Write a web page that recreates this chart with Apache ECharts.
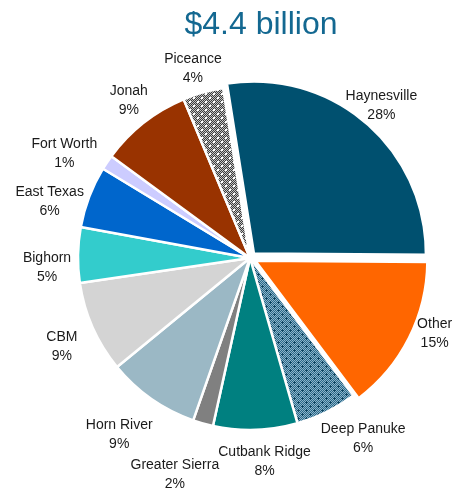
<!DOCTYPE html>
<html>
<head>
<meta charset="utf-8">
<script src="https://cdn.jsdelivr.net/npm/echarts@6/dist/echarts.min.js"></script>
<style>html,body{margin:0;padding:0;background:#fff;}#c{width:455px;height:489px;}</style>
</head>
<body>
<div id="c"></div>
<script>
const title = '$4.4 billion';
const categories = ['Haynesville','Other','Deep Panuke','Cutbank Ridge','Greater Sierra','Horn River','CBM','Bighorn','East Texas','Fort Worth','Jonah','Piceance'];
// estimated shares (%); labels show them rounded
const shares = [27.6,14.6,5.8,7.9,1.9,8.7,8.6,5.2,5.8,1.4,8.6,3.8];
const exploded = ['Haynesville','Other'];

// label nudges (style only), in px
const labelNudge = {
  'Haynesville':[-5,6], 'Other':[-2,-18], 'Deep Panuke':[20,-6], 'Cutbank Ridge':[8,-5],
  'Greater Sierra':[-18,16], 'Horn River':[-11,5], 'CBM':[3,4], 'Bighorn':[6,13],
  'East Texas':[-5,18], 'Fort Worth':[-12,12], 'Jonah':[8,7], 'Piceance':[0,12]
};

function pattern(base, fine, markColor, cross) {
  const c = document.createElement('canvas');
  c.width = 8; c.height = 8;
  const g = c.getContext('2d');
  g.fillStyle = base; g.fillRect(0,0,8,8);
  g.fillStyle = fine;
  for (let y=0;y<8;y++) for (let x=0;x<8;x++) if ((x+y)%2===0) g.fillRect(x,y,1,1);
  g.fillStyle = markColor;
  [[1,1],[5,5]].forEach(([x,y])=>{
    if (cross) { g.fillRect(x+1,y,1,3); g.fillRect(x,y+1,3,1); }
    else { g.fillRect(x,y,2,2); }
  });
  return {image: c, repeat: 'repeat'};
}

const colors = {
  'Haynesville':'#00506F',
  'Other':'#FF6600',
  'Deep Panuke': pattern('#2A6A8A','#8DB3C9','#0D4663',true),
  'Cutbank Ridge':'#008080',
  'Greater Sierra':'#808080',
  'Horn River':'#9BB8C5',
  'CBM':'#D4D4D4',
  'Bighorn':'#33CCCC',
  'East Texas':'#0066CC',
  'Fort Worth':'#CCCCFF',
  'Jonah':'#993300',
  'Piceance': pattern('#3C3C3C','#C4C4C4','#FFFFFF',false)
};

const pieData = categories.map((n,i)=>({
  name:n, value:shares[i],
  selected: exploded.indexOf(n)>=0,
  itemStyle:{color:colors[n]}
}));
const labelData = categories.map((n,i)=>({name:n, value:shares[i], label:{offset:labelNudge[n]}}));

const chart = echarts.init(document.getElementById('c'));
chart.setOption({
  animation:false,
  title:{text:title,left:256,textAlign:'center',top:4,
    textStyle:{fontFamily:'Liberation Sans, Arial, sans-serif',fontSize:32,fontWeight:'normal',color:'#136891'}},
  series:[
    {
      type:'pie', center:[250,258], radius:172, startAngle:99, clockwise:true,
      selectedMode:'multiple', selectedOffset:6,
      label:{show:false}, labelLine:{show:false},
      itemStyle:{borderColor:'#ffffff',borderWidth:2.5},
      emphasis:{disabled:true}, silent:true,
      data:pieData
    },
    {
      type:'pie', center:[250,258], radius:[200,212], startAngle:99, clockwise:true,
      silent:true, emphasis:{disabled:true},
      avoidLabelOverlap:false,
      labelLayout:{hideOverlap:false},
      itemStyle:{color:'rgba(0,0,0,0)'},
      labelLine:{show:false},
      label:{show:true,position:'inside',formatter:p=>p.name+'\n'+Math.round(p.value)+'%',
        fontFamily:'Liberation Sans, Arial, sans-serif',fontSize:14,lineHeight:19,color:'#1a1a1a',align:'center'},
      data:labelData
    }
  ]
});
</script>
</body>
</html>
